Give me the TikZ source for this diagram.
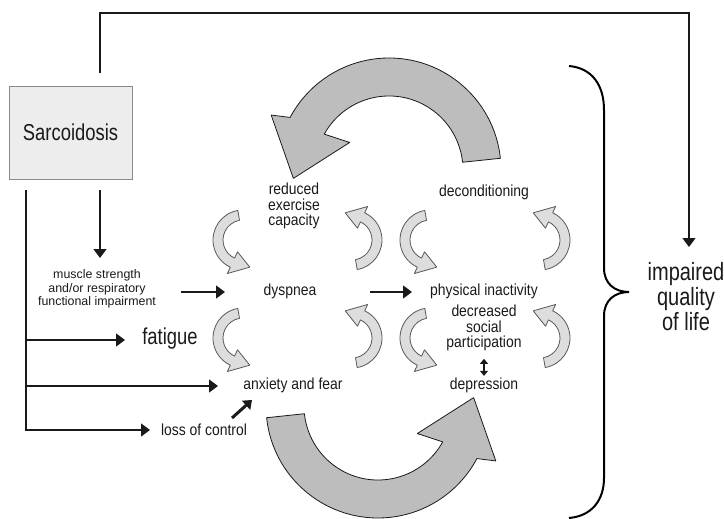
\documentclass[tikz,border=0pt]{standalone}
\usepackage{fontspec}
\setmainfont{Liberation Sans}[FakeStretch=0.8]
\newfontfamily\condfont{Liberation Sans}[FakeStretch=0.87]
\newfontfamily\plainsans{Liberation Sans}
\usetikzlibrary{arrows.meta}
\definecolor{ink}{HTML}{1A1A1A}
\definecolor{boxfill}{HTML}{EDEDED}
\definecolor{boxline}{HTML}{8A8A8A}
\definecolor{bigfill}{HTML}{BDBDBD}
\definecolor{smallfill}{HTML}{DDDDDD}
\tikzset{
  lbl/.style={inner sep=0pt, text=ink, align=center, font=\condfont\fontsize{16}{15.2}\selectfont},
  biglbl/.style={inner sep=0pt, text=ink, align=center, font=\fontsize{23}{25}\selectfont},
  qollbl/.style={inner sep=0pt, text=ink, align=center, font=\fontsize{25}{25}\selectfont},
  smalllbl/.style={inner sep=0pt, text=ink, align=center, font=\plainsans\fontsize{12.4}{13.6}\selectfont},
  sbox/.style={draw=boxline, fill=boxfill, line width=0.8pt, minimum width=123pt, minimum height=93pt, inner sep=0pt, text=ink, font=\fontsize{23}{25}\selectfont},
  conn/.style={draw=ink, line width=1.4pt, -{Triangle[width=13pt,length=9pt]}},
  thickconn/.style={draw=ink, line width=3pt, -{Triangle[width=12pt,length=8pt]}},
  dblconn/.style={draw=ink, line width=2pt, {Triangle[width=8pt,length=5pt]}-{Triangle[width=8pt,length=5pt]}},
  bracestyle/.style={draw=black, line width=2pt},
  bigarrow/.style={fill=bigfill, draw=ink, line width=0.8pt, line join=round},
  smallarrow/.style={fill=smallfill, draw=black!65, line width=0.8pt, line join=round},
  bigcurl/.pic={
    \draw[bigarrow] (6:112) arc[start angle=6, end angle=152, radius=112]
      -- (155:130) -- (185:96) -- (145:48) -- (151:74)
      arc[start angle=151, end angle=6, radius=74] -- cycle;
  },
  curl/.pic={
    \draw[smallarrow] (100:30) arc[start angle=100, end angle=245, radius=30]
      -- (245:37) -- (284:28) -- (245:13) -- (245:20)
      arc[start angle=245, end angle=100, radius=20] -- cycle;
  }
}
\begin{document}
\begin{tikzpicture}[x=1pt,y=1pt]
\useasboundingbox (0,0) rectangle (724,-519);

% big cycle arrows
\pic at (389,-170) {bigcurl};
\pic[rotate=180] at (378,-406) {bigcurl};

% small cycle arrows
\pic at (243,-240) {curl};
\pic at (243,-338) {curl};
\pic[rotate=180] at (352,-240) {curl};
\pic[rotate=180] at (352,-338) {curl};
\pic at (430,-240) {curl};
\pic at (430,-338) {curl};
\pic[rotate=180] at (540,-240) {curl};
\pic[rotate=180] at (540,-338) {curl};

% nodes
\node[sbox] (sarc) at (70.5,-132.5) {Sarcoidosis};
\node[smalllbl] (muscle) at (97,-289) {muscle strength\\and/or respiratory\\functional impairment};
\node[biglbl] (fat) at (170,-339) {fatigue};
\node[lbl] (dysp) at (290,-291) {dyspnea};
\node[lbl] (anx) at (293,-385) {anxiety and fear};
\node[lbl] (loc) at (204,-430) {loss of control};
\node[lbl] (rec) at (294,-206) {reduced\\exercise\\capacity};
\node[lbl] (decond) at (484,-192) {deconditioning};
\node[lbl] (phys) at (484,-291) {physical inactivity};
\node[lbl] (decr) at (484,-328) {decreased\\social\\participation};
\node[lbl] (depr) at (484,-385) {depression};
\node[qollbl] (qol) at (686,-297) {impaired\\quality\\of life};

% connector end points
\coordinate (s1) at (100,-73);
\coordinate (topy) at (0,-13);
\coordinate (qoltip) at (689,-247);
\coordinate (s2) at (100,-190);
\coordinate (mtip) at (100,-258);
\coordinate (s3) at (26,-190);
\coordinate (fattip) at (125,-340);
\coordinate (anxtip) at (218,-386);
\coordinate (loctip) at (150,-430);
\coordinate (m1) at (181,-292);
\coordinate (dysptip) at (225,-292);
\coordinate (d1) at (370,-292);
\coordinate (phystip) at (412,-292);
\coordinate (lc1) at (232,-418);
\coordinate (lctip) at (252,-400);

% connectors
\draw[conn] (s1) -- (s1 |- topy) -| (qoltip);
\draw[conn] (s2) -- (mtip);
\draw[conn] (s3) |- (loctip);
\draw[conn] (s3 |- fattip) -- (fattip);
\draw[conn] (s3 |- anxtip) -- (anxtip);
\draw[conn] (m1) -- (dysptip);
\draw[conn] (d1) -- (phystip);
\draw[thickconn] (lc1) -- (lctip);
\draw[dblconn, shorten <=8pt, shorten >=1.5pt] (decr.south) -- (depr.north);

% brace
\draw[bracestyle] (569,-66) .. controls (592,-68) and (604,-85) .. (604,-110)
  -- (604,-268) .. controls (604,-284) and (615,-292) .. (629,-292)
  .. controls (615,-292) and (604,-300) .. (604,-316)
  -- (604,-478) .. controls (604,-500) and (592,-516) .. (569,-518);
\end{tikzpicture}
\end{document}
